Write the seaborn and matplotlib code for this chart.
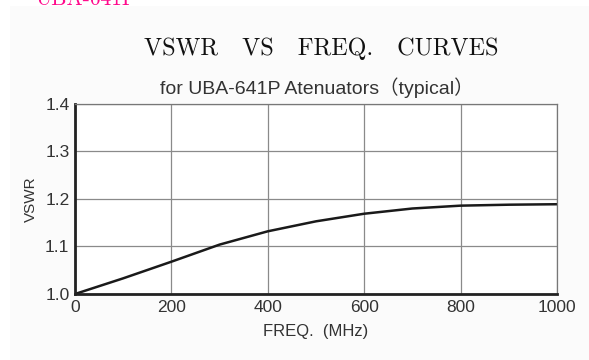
import matplotlib
matplotlib.use("Agg")
import matplotlib.pyplot as plt
import seaborn as sns
import pandas as pd
from matplotlib.patches import Rectangle

freq_mhz = [0, 100, 200, 300, 400, 500, 600, 700, 800, 900, 1000]
vswr = [1.000, 1.033, 1.068, 1.104, 1.132, 1.153, 1.169, 1.180, 1.186, 1.188, 1.189]
x_ticks = [0, 200, 400, 600, 800, 1000]
y_ticks = [1.0, 1.1, 1.2, 1.3, 1.4]
y_tick_labels = ["1.0", "1.1", "1.2", "1.3", "1.4"]

sns.set_theme(style="white")
plt.rcParams['font.family'] = ['Liberation Sans', 'DejaVu Sans']

fig = plt.figure(figsize=(5.89, 3.60), dpi=100)
fig.patch.set_facecolor("white")
fig.add_artist(Rectangle((10/589, 0), 1, 1 - 6/360, transform=fig.transFigure,
                         facecolor="#fbfbfb", edgecolor="none", zorder=-10))

ax = fig.add_axes([75/589, 1 - 294/360, (557 - 75)/589, (294 - 104)/360])
ax.set_facecolor("white")

df = pd.DataFrame({"freq": freq_mhz, "vswr": vswr})
sns.lineplot(data=df, x="freq", y="vswr", ax=ax, color="#1a1a1a", linewidth=1.8)

ax.set_xlim(0, 1000)
ax.set_ylim(1.0, 1.4)
ax.set_xticks(x_ticks)
ax.set_yticks(y_ticks)
ax.set_yticklabels(y_tick_labels)
ax.grid(True, color="#8a8a8a", linewidth=0.9)
ax.tick_params(length=0, labelsize=12.5, colors="#333333", pad=4)

for s in ["left", "bottom"]:
    ax.spines[s].set_color("#222222")
    ax.spines[s].set_linewidth(2.0)
for s in ["top", "right"]:
    ax.spines[s].set_color("#777777")
    ax.spines[s].set_linewidth(0.9)

ax.set_xlabel("FREQ.  (MHz)", fontsize=12, color="#333333", labelpad=7)
ax.set_ylabel("VSWR", fontsize=11, color="#333333", labelpad=5)

fig.text(321.5/589, 1 - 49/360, "VSWR   VS   FREQ.   CURVES", family="cmr10",
         fontsize=17.4, ha="center", va="center", color="#111111")
fig.text(316.5/589, 1 - 88/360, "for UBA-641P Atenuators（typical）",
         family=["Liberation Sans", "Noto Sans CJK JP"],
         fontsize=14, ha="center", va="center", color="#333333")
fig.text(35/589, 1 - 5/360, "UBA-641P", family="cmr10", fontsize=15.5,
         ha="left", va="baseline", color="#ff0a8c")

fig.savefig("out.png", dpi=100)
